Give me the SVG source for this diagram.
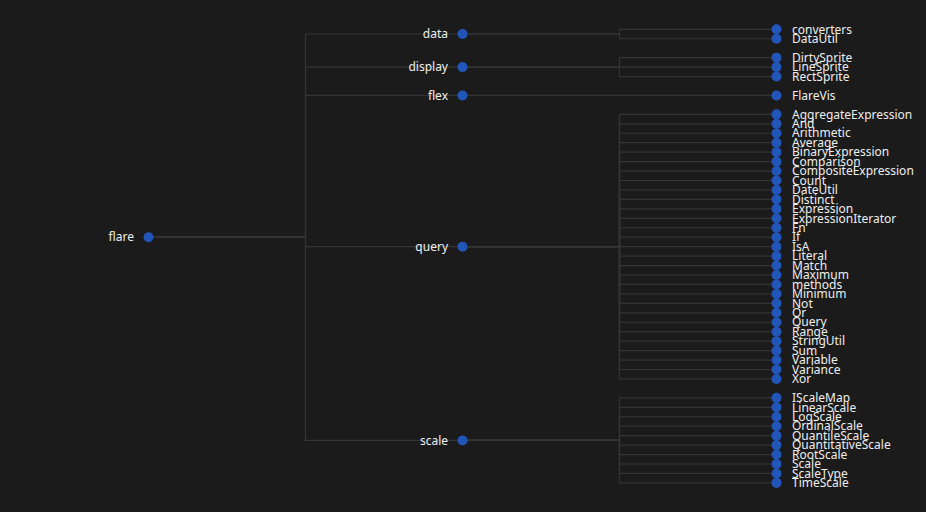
<svg xmlns="http://www.w3.org/2000/svg" width="926" height="512" viewBox="0 0 926 512">
<style>
.e{fill:none;stroke:#343434;stroke-width:1.2}
.n{fill:#2255b8}
text{font-family:"Noto Sans","Liberation Sans",Arial,sans-serif;font-size:12px;fill:#eeeeee}
.l{text-anchor:end}
</style>
<rect x="0" y="0" width="926" height="512" fill="#1b1b1b"/>
<g id="connectors">
<path class="e" d="M148.5,237.2H305.5V34H462.5"/>
<path class="e" d="M148.5,237.2H305.5V67.1H462.5"/>
<path class="e" d="M148.5,237.2H305.5V95.45H462.5"/>
<path class="e" d="M148.5,237.2H305.5V246.65H462.5"/>
<path class="e" d="M148.5,237.2H305.5V440.4H462.5"/>
<path class="e" d="M462.5,34H619.5V29.3H776.5"/>
<path class="e" d="M462.5,34H619.5V38.75H776.5"/>
<path class="e" d="M462.5,67.1H619.5V57.65H776.5"/>
<path class="e" d="M462.5,67.1H619.5V67.1H776.5"/>
<path class="e" d="M462.5,67.1H619.5V76.55H776.5"/>
<path class="e" d="M462.5,95.45H619.5V95.45H776.5"/>
<path class="e" d="M462.5,246.65H619.5V114.35H776.5"/>
<path class="e" d="M462.5,246.65H619.5V123.8H776.5"/>
<path class="e" d="M462.5,246.65H619.5V133.25H776.5"/>
<path class="e" d="M462.5,246.65H619.5V142.7H776.5"/>
<path class="e" d="M462.5,246.65H619.5V152.15H776.5"/>
<path class="e" d="M462.5,246.65H619.5V161.6H776.5"/>
<path class="e" d="M462.5,246.65H619.5V171.05H776.5"/>
<path class="e" d="M462.5,246.65H619.5V180.5H776.5"/>
<path class="e" d="M462.5,246.65H619.5V189.95H776.5"/>
<path class="e" d="M462.5,246.65H619.5V199.4H776.5"/>
<path class="e" d="M462.5,246.65H619.5V208.85H776.5"/>
<path class="e" d="M462.5,246.65H619.5V218.3H776.5"/>
<path class="e" d="M462.5,246.65H619.5V227.75H776.5"/>
<path class="e" d="M462.5,246.65H619.5V237.2H776.5"/>
<path class="e" d="M462.5,246.65H619.5V246.65H776.5"/>
<path class="e" d="M462.5,246.65H619.5V256.1H776.5"/>
<path class="e" d="M462.5,246.65H619.5V265.55H776.5"/>
<path class="e" d="M462.5,246.65H619.5V275H776.5"/>
<path class="e" d="M462.5,246.65H619.5V284.45H776.5"/>
<path class="e" d="M462.5,246.65H619.5V293.9H776.5"/>
<path class="e" d="M462.5,246.65H619.5V303.35H776.5"/>
<path class="e" d="M462.5,246.65H619.5V312.8H776.5"/>
<path class="e" d="M462.5,246.65H619.5V322.25H776.5"/>
<path class="e" d="M462.5,246.65H619.5V331.7H776.5"/>
<path class="e" d="M462.5,246.65H619.5V341.15H776.5"/>
<path class="e" d="M462.5,246.65H619.5V350.6H776.5"/>
<path class="e" d="M462.5,246.65H619.5V360.05H776.5"/>
<path class="e" d="M462.5,246.65H619.5V369.5H776.5"/>
<path class="e" d="M462.5,246.65H619.5V378.95H776.5"/>
<path class="e" d="M462.5,440.4H619.5V397.85H776.5"/>
<path class="e" d="M462.5,440.4H619.5V407.3H776.5"/>
<path class="e" d="M462.5,440.4H619.5V416.75H776.5"/>
<path class="e" d="M462.5,440.4H619.5V426.2H776.5"/>
<path class="e" d="M462.5,440.4H619.5V435.65H776.5"/>
<path class="e" d="M462.5,440.4H619.5V445.1H776.5"/>
<path class="e" d="M462.5,440.4H619.5V454.55H776.5"/>
<path class="e" d="M462.5,440.4H619.5V464H776.5"/>
<path class="e" d="M462.5,440.4H619.5V473.45H776.5"/>
<path class="e" d="M462.5,440.4H619.5V482.9H776.5"/>
</g>
<g id="flare"><circle class="n" cx="148.5" cy="237.2" r="5"/><text class="l" x="134" y="241.4">flare</text></g>
<g id="data"><circle class="n" cx="462.5" cy="34" r="5"/><text class="l" x="448" y="38.2">data</text></g>
<g id="display"><circle class="n" cx="462.5" cy="67.1" r="5"/><text class="l" x="448" y="71.3">display</text></g>
<g id="flex"><circle class="n" cx="462.5" cy="95.45" r="5"/><text class="l" x="448" y="99.65">flex</text></g>
<g id="query"><circle class="n" cx="462.5" cy="246.65" r="5"/><text class="l" x="448" y="250.85">query</text></g>
<g id="scale"><circle class="n" cx="462.5" cy="440.4" r="5"/><text class="l" x="448" y="444.6">scale</text></g>
<g id="data-converters"><circle class="n" cx="776.5" cy="29.3" r="5"/><text x="792" y="33.5">converters</text></g>
<g id="data-DataUtil"><circle class="n" cx="776.5" cy="38.75" r="5"/><text x="792" y="42.95">DataUtil</text></g>
<g id="display-DirtySprite"><circle class="n" cx="776.5" cy="57.65" r="5"/><text x="792" y="61.85">DirtySprite</text></g>
<g id="display-LineSprite"><circle class="n" cx="776.5" cy="67.1" r="5"/><text x="792" y="71.3">LineSprite</text></g>
<g id="display-RectSprite"><circle class="n" cx="776.5" cy="76.55" r="5"/><text x="792" y="80.75">RectSprite</text></g>
<g id="flex-FlareVis"><circle class="n" cx="776.5" cy="95.45" r="5"/><text x="792" y="99.65">FlareVis</text></g>
<g id="query-AggregateExpression"><circle class="n" cx="776.5" cy="114.35" r="5"/><text x="792" y="118.55">AggregateExpression</text></g>
<g id="query-And"><circle class="n" cx="776.5" cy="123.8" r="5"/><text x="792" y="128">And</text></g>
<g id="query-Arithmetic"><circle class="n" cx="776.5" cy="133.25" r="5"/><text x="792" y="137.45">Arithmetic</text></g>
<g id="query-Average"><circle class="n" cx="776.5" cy="142.7" r="5"/><text x="792" y="146.9">Average</text></g>
<g id="query-BinaryExpression"><circle class="n" cx="776.5" cy="152.15" r="5"/><text x="792" y="156.35">BinaryExpression</text></g>
<g id="query-Comparison"><circle class="n" cx="776.5" cy="161.6" r="5"/><text x="792" y="165.8">Comparison</text></g>
<g id="query-CompositeExpression"><circle class="n" cx="776.5" cy="171.05" r="5"/><text x="792" y="175.25">CompositeExpression</text></g>
<g id="query-Count"><circle class="n" cx="776.5" cy="180.5" r="5"/><text x="792" y="184.7">Count</text></g>
<g id="query-DateUtil"><circle class="n" cx="776.5" cy="189.95" r="5"/><text x="792" y="194.15">DateUtil</text></g>
<g id="query-Distinct"><circle class="n" cx="776.5" cy="199.4" r="5"/><text x="792" y="203.6">Distinct</text></g>
<g id="query-Expression"><circle class="n" cx="776.5" cy="208.85" r="5"/><text x="792" y="213.05">Expression</text></g>
<g id="query-ExpressionIterator"><circle class="n" cx="776.5" cy="218.3" r="5"/><text x="792" y="222.5">ExpressionIterator</text></g>
<g id="query-Fn"><circle class="n" cx="776.5" cy="227.75" r="5"/><text x="792" y="231.95">Fn</text></g>
<g id="query-If"><circle class="n" cx="776.5" cy="237.2" r="5"/><text x="792" y="241.4">If</text></g>
<g id="query-IsA"><circle class="n" cx="776.5" cy="246.65" r="5"/><text x="792" y="250.85">IsA</text></g>
<g id="query-Literal"><circle class="n" cx="776.5" cy="256.1" r="5"/><text x="792" y="260.3">Literal</text></g>
<g id="query-Match"><circle class="n" cx="776.5" cy="265.55" r="5"/><text x="792" y="269.75">Match</text></g>
<g id="query-Maximum"><circle class="n" cx="776.5" cy="275" r="5"/><text x="792" y="279.2">Maximum</text></g>
<g id="query-methods"><circle class="n" cx="776.5" cy="284.45" r="5"/><text x="792" y="288.65">methods</text></g>
<g id="query-Minimum"><circle class="n" cx="776.5" cy="293.9" r="5"/><text x="792" y="298.1">Minimum</text></g>
<g id="query-Not"><circle class="n" cx="776.5" cy="303.35" r="5"/><text x="792" y="307.55">Not</text></g>
<g id="query-Or"><circle class="n" cx="776.5" cy="312.8" r="5"/><text x="792" y="317">Or</text></g>
<g id="query-Query"><circle class="n" cx="776.5" cy="322.25" r="5"/><text x="792" y="326.45">Query</text></g>
<g id="query-Range"><circle class="n" cx="776.5" cy="331.7" r="5"/><text x="792" y="335.9">Range</text></g>
<g id="query-StringUtil"><circle class="n" cx="776.5" cy="341.15" r="5"/><text x="792" y="345.35">StringUtil</text></g>
<g id="query-Sum"><circle class="n" cx="776.5" cy="350.6" r="5"/><text x="792" y="354.8">Sum</text></g>
<g id="query-Variable"><circle class="n" cx="776.5" cy="360.05" r="5"/><text x="792" y="364.25">Variable</text></g>
<g id="query-Variance"><circle class="n" cx="776.5" cy="369.5" r="5"/><text x="792" y="373.7">Variance</text></g>
<g id="query-Xor"><circle class="n" cx="776.5" cy="378.95" r="5"/><text x="792" y="383.15">Xor</text></g>
<g id="scale-IScaleMap"><circle class="n" cx="776.5" cy="397.85" r="5"/><text x="792" y="402.05">IScaleMap</text></g>
<g id="scale-LinearScale"><circle class="n" cx="776.5" cy="407.3" r="5"/><text x="792" y="411.5">LinearScale</text></g>
<g id="scale-LogScale"><circle class="n" cx="776.5" cy="416.75" r="5"/><text x="792" y="420.95">LogScale</text></g>
<g id="scale-OrdinalScale"><circle class="n" cx="776.5" cy="426.2" r="5"/><text x="792" y="430.4">OrdinalScale</text></g>
<g id="scale-QuantileScale"><circle class="n" cx="776.5" cy="435.65" r="5"/><text x="792" y="439.85">QuantileScale</text></g>
<g id="scale-QuantitativeScale"><circle class="n" cx="776.5" cy="445.1" r="5"/><text x="792" y="449.3">QuantitativeScale</text></g>
<g id="scale-RootScale"><circle class="n" cx="776.5" cy="454.55" r="5"/><text x="792" y="458.75">RootScale</text></g>
<g id="scale-Scale"><circle class="n" cx="776.5" cy="464" r="5"/><text x="792" y="468.2">Scale</text></g>
<g id="scale-ScaleType"><circle class="n" cx="776.5" cy="473.45" r="5"/><text x="792" y="477.65">ScaleType</text></g>
<g id="scale-TimeScale"><circle class="n" cx="776.5" cy="482.9" r="5"/><text x="792" y="487.1">TimeScale</text></g>
</svg>
